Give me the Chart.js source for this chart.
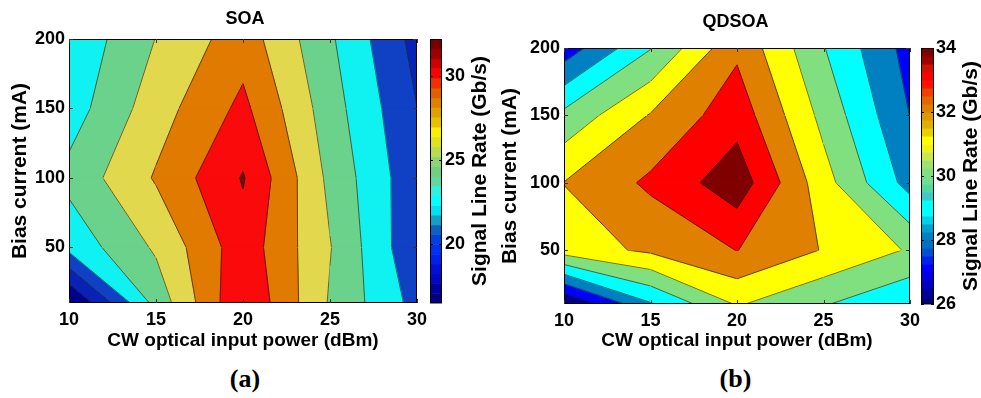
<!DOCTYPE html>
<html>
<head>
<meta charset="utf-8">
<script src="https://cdn.jsdelivr.net/npm/chart.js@4.4.1/dist/chart.umd.min.js"></script>
<style>
  body { margin: 0; background: #fff; width: 981px; height: 398px; overflow: hidden; position: relative; }
  .panel { position: absolute; top: 0; height: 360px; }
  .cap { position: absolute; top: 364px; text-align: center; font: bold 26px "Liberation Serif", "Times New Roman", serif; line-height: 30px; }
</style>
</head>
<body>
<div class="panel" style="left:0;width:490px"><canvas id="soa" width="490" height="360"></canvas></div>
<div class="panel" style="left:490px;width:491px"><canvas id="qdsoa" width="491" height="360"></canvas></div>
<div class="cap" style="left:0;width:490px">(a)</div>
<div class="cap" style="left:490px;width:491px">(b)</div>
<script>
// grid of the measurements
const powerDbm = [10, 15, 20, 25, 30];
const biasMa = [10, 50, 100, 150, 200];

// signal line rate (Gb/s), one row per bias current, one column per input power
const soaRate = [
  [15.6, 24.7, 31.9, 25.8, 21.3],
  [22.6, 26.3, 31.2, 26.1, 20.3],
  [24.6, 28.2, 32.15, 25.5, 20.5],
  [23.0, 27.1, 30.5, 24.9, 20.02],
  [22.4, 26.05, 29.1, 24.3, 19.3]
];
const qdsoaRate = [
  [25.4, 28.4, 30.6, 29.58, 28.6],
  [31.0, 31.68, 32.52, 31.44, 30.4],
  [31.52, 32.69, 34.1, 30.9, 28.1],
  [29.77, 31.57, 33.1, 30.2, 27.48],
  [26.9, 29.45, 32.3, 29.55, 27.1]
];

const soaLevels = [18, 20, 22, 24, 26, 28, 30, 32];
const qdsoaLevels = [26.5, 27.5, 28.5, 29.5, 30.5, 31.5, 32.5, 33.5];

const powerTicks = [10, 15, 20, 25, 30];
const biasTicks = [50, 100, 150, 200];
const soaBarTicks = [20, 25, 30];
const qdsoaBarTicks = [26, 28, 30, 32, 34];
const soaBarRange = [16.5, 32.2];
const qdsoaBarRange = [26, 34];

// fill colour of each band, lowest first
const soaFills = ['#00008a', '#0a22b4', '#1040c4', '#10f2f2', '#6ad28a', '#e2d84e', '#e07a00', '#fa0a0a', '#7a0a0a'];
const qdsoaFills = ['#00008c', '#0000ff', '#0080c0', '#00ffff', '#80e080', '#ffff00', '#e08000', '#ff0000', '#800000'];

// colour bar steps, bottom to top
const soaBarColors = ['#000080', '#0000a0', '#0008c0', '#0010d8', '#0020f0', '#0030f0', '#0040e0', '#1060c0', '#10a0c8',
  '#00e0f0', '#00ffff', '#30f0e0', '#60d8a0', '#70d080', '#90d470', '#b8dc50', '#e0e020', '#f8f000', '#e8c000',
  '#e0a000', '#e08000', '#e06000', '#f03000', '#ff0000', '#d00000', '#a00000', '#780000'];
const qdsoaBarColors = ['#000080', '#0000a0', '#0000c0', '#0000e0', '#0000ff', '#0020f0', '#0050d0', '#0070c0', '#0080c0',
  '#00a0d0', '#00d0e8', '#00ffff', '#00ffff', '#40c8c8', '#50d8a0', '#70e090', '#80e080', '#a0e070', '#c8e850', '#f0f020',
  '#ffff00', '#e8d000', '#e0b000', '#e09800', '#e08000', '#e06800', '#f04000', '#ff1000', '#ff0000', '#d01000', '#a00000', '#800000'];

Chart.defaults.font.family = '"Liberation Sans", Arial, sans-serif';
Chart.defaults.color = '#000';

// keep the part of a cell polygon on one side of a level (z linear along edges)
function clip(poly, level, sign) {
  const out = [];
  for (let n = 0; n < poly.length; n++) {
    const a = poly[n], b = poly[(n + 1) % poly.length];
    const fa = sign * (a.z - level), fb = sign * (b.z - level);
    if (fa >= 0) out.push(a);
    if ((fa >= 0) !== (fb >= 0)) {
      const t = fa / (fa - fb);
      out.push({ x: a.x + t * (b.x - a.x), y: a.y + t * (b.y - a.y), z: level });
    }
  }
  return out;
}

const contourLayer = (cfg) => ({
  id: 'contour',
  beforeDatasetsDraw(chart) {
    const { ctx, chartArea: a, scales: { x, y } } = chart;
    const z = cfg.values, lv = cfg.levels;
    const px = p => [x.getPixelForValue(p.x), y.getPixelForValue(p.y)];
    ctx.save();
    ctx.beginPath();
    ctx.rect(a.left, a.top, a.width, a.height);
    ctx.clip();
    for (let j = 0; j < biasMa.length - 1; j++) {
      for (let i = 0; i < powerDbm.length - 1; i++) {
        const quad = [
          { x: powerDbm[i], y: biasMa[j], z: z[j][i] },
          { x: powerDbm[i + 1], y: biasMa[j], z: z[j][i + 1] },
          { x: powerDbm[i + 1], y: biasMa[j + 1], z: z[j + 1][i + 1] },
          { x: powerDbm[i], y: biasMa[j + 1], z: z[j + 1][i] }
        ];
        for (let k = 0; k <= lv.length; k++) {
          let poly = quad;
          if (k > 0) poly = clip(poly, lv[k - 1], 1);
          if (k < lv.length) poly = clip(poly, lv[k], -1);
          if (poly.length < 3) continue;
          ctx.beginPath();
          poly.forEach((p, n) => { const [u, v] = px(p); n ? ctx.lineTo(u, v) : ctx.moveTo(u, v); });
          ctx.closePath();
          ctx.fillStyle = ctx.strokeStyle = cfg.fills[k];
          ctx.lineWidth = 1;
          ctx.fill();
          ctx.stroke();
        }
        // contour lines
        ctx.strokeStyle = 'rgba(20,20,20,0.75)';
        ctx.lineWidth = 0.8;
        lv.forEach(L => {
          const pts = [];
          for (let n = 0; n < 4; n++) {
            const p = quad[n], q = quad[(n + 1) % 4];
            if ((p.z - L) * (q.z - L) < 0) {
              const t = (L - p.z) / (q.z - p.z);
              pts.push(px({ x: p.x + t * (q.x - p.x), y: p.y + t * (q.y - p.y) }));
            }
          }
          for (let n = 0; n + 1 < pts.length; n += 2) {
            ctx.beginPath();
            ctx.moveTo(pts[n][0], pts[n][1]);
            ctx.lineTo(pts[n + 1][0], pts[n + 1][1]);
            ctx.stroke();
          }
        });
      }
    }
    ctx.restore();

    // box and inward tick marks
    ctx.save();
    ctx.strokeStyle = '#000';
    ctx.lineWidth = 1;
    ctx.strokeRect(a.left + 0.5, a.top + 0.5, a.width - 1, a.height - 1);
    ctx.strokeStyle = '#333';
    ctx.beginPath();
    powerTicks.forEach(v => {
      const u = Math.round(x.getPixelForValue(v)) + 0.5;
      ctx.moveTo(u, a.bottom); ctx.lineTo(u, a.bottom - 4);
      ctx.moveTo(u, a.top); ctx.lineTo(u, a.top + 4);
    });
    biasTicks.forEach(v => {
      const w = Math.round(y.getPixelForValue(v)) + 0.5;
      ctx.moveTo(a.left, w); ctx.lineTo(a.left + 4, w);
      ctx.moveTo(a.right, w); ctx.lineTo(a.right - 4, w);
    });
    ctx.stroke();
    ctx.restore();
  }
});

const colorbarLayer = (cfg) => ({
  id: 'colorbar',
  afterDraw(chart) {
    const { ctx, chartArea: a, scales: { cb } } = chart;
    const x0 = a.right + cfg.gap, n = cfg.colors.length;
    const step = (cb.max - cb.min) / n;
    ctx.save();
    cfg.colors.forEach((c, i) => {
      const top = cb.getPixelForValue(cb.min + (i + 1) * step);
      const bot = cb.getPixelForValue(cb.min + i * step);
      ctx.fillStyle = c;
      ctx.fillRect(x0, top, cfg.width, bot - top + 0.5);
    });
    ctx.strokeStyle = '#000';
    ctx.lineWidth = 1;
    ctx.strokeRect(x0 + 0.5, a.top + 0.5, cfg.width - 1, a.height - 1);
    ctx.beginPath();
    cfg.ticks.forEach(v => {
      const w = Math.round(cb.getPixelForValue(v)) + 0.5;
      ctx.moveTo(x0 + cfg.width, w); ctx.lineTo(x0 + cfg.width - 3, w);
      ctx.moveTo(x0, w); ctx.lineTo(x0 + 3, w);
    });
    ctx.stroke();
    // colour bar title, reading upwards
    ctx.translate(cfg.titleX, (a.top + a.bottom) / 2);
    ctx.rotate(-Math.PI / 2);
    ctx.font = 'bold 21px "Liberation Sans", Arial, sans-serif';
    ctx.fillStyle = '#000';
    ctx.textAlign = 'center';
    ctx.textBaseline = 'middle';
    ctx.fillText('Signal Line Rate (Gb/s)', 0, 0);
    ctx.restore();
  }
});

function contourChart(id, o) {
  const tickFont = { size: 18, weight: 'bold' };
  return new Chart(document.getElementById(id), {
    type: 'scatter',
    data: { datasets: [{ data: [] }] },
    options: {
      responsive: false,
      devicePixelRatio: 1,
      animation: false,
      layout: { padding: 0 },
      plugins: {
        legend: { display: false },
        tooltip: { enabled: false },
        title: {
          display: true, text: o.title, color: '#000',
          font: { size: 18, weight: 'bold' },
          padding: { top: o.titleTop, bottom: o.titleBottom }
        }
      },
      scales: {
        x: {
          type: 'linear', min: 10, max: 30,
          afterBuildTicks: s => { s.ticks = powerTicks.map(v => ({ value: v })); },
          afterFit: s => { s.height = o.xHeight; },
          ticks: { font: tickFont, color: '#000', padding: 6, autoSkip: false, maxRotation: 0 },
          grid: { display: false, drawTicks: false },
          border: { display: false },
          title: { display: true, text: 'CW optical input power (dBm)', color: '#000', font: { size: 19, weight: 'bold' }, padding: { top: 0, bottom: 8 } }
        },
        y: {
          type: 'linear', min: 10, max: 200,
          afterBuildTicks: s => { s.ticks = biasTicks.map(v => ({ value: v })); },
          afterFit: s => { s.width = o.yWidth; },
          ticks: { font: tickFont, color: '#000', padding: 4, autoSkip: false },
          grid: { display: false, drawTicks: false },
          border: { display: false },
          title: { display: true, text: 'Bias current (mA)', color: '#000', font: { size: 21, weight: 'bold' }, padding: { top: 8, bottom: 0 } }
        },
        cb: {
          axis: 'y', type: 'linear', position: 'right', min: o.barRange[0], max: o.barRange[1],
          afterBuildTicks: s => { s.ticks = o.barTicks.map(v => ({ value: v })); },
          afterFit: s => { s.width = o.cbWidth; },
          ticks: { font: tickFont, color: '#000', padding: o.cbPad, autoSkip: false },
          grid: { display: false, drawTicks: false },
          border: { display: false }
        }
      }
    },
    plugins: [
      contourLayer({ values: o.values, levels: o.levels, fills: o.fills }),
      colorbarLayer({ colors: o.barColors, ticks: o.barTicks, gap: o.cbGap, width: o.cbBarW, titleX: o.cbTitleX })
    ]
  });
}

contourChart('soa', {
  title: 'SOA', titleTop: 8, titleBottom: 9.4,
  values: soaRate, levels: soaLevels, fills: soaFills,
  barColors: soaBarColors, barTicks: soaBarTicks, barRange: soaBarRange,
  xHeight: 57, yWidth: 69, cbWidth: 73, cbPad: 28, cbGap: 13, cbBarW: 12, cbTitleX: 480
});

contourChart('qdsoa', {
  title: 'QDSOA', titleTop: 11, titleBottom: 15.4,
  values: qdsoaRate, levels: qdsoaLevels, fills: qdsoaFills,
  barColors: qdsoaBarColors, barTicks: qdsoaBarTicks, barRange: qdsoaBarRange,
  xHeight: 56, yWidth: 74, cbWidth: 71, cbPad: 26, cbGap: 11, cbBarW: 13, cbTitleX: 481
});
</script>
</body>
</html>
